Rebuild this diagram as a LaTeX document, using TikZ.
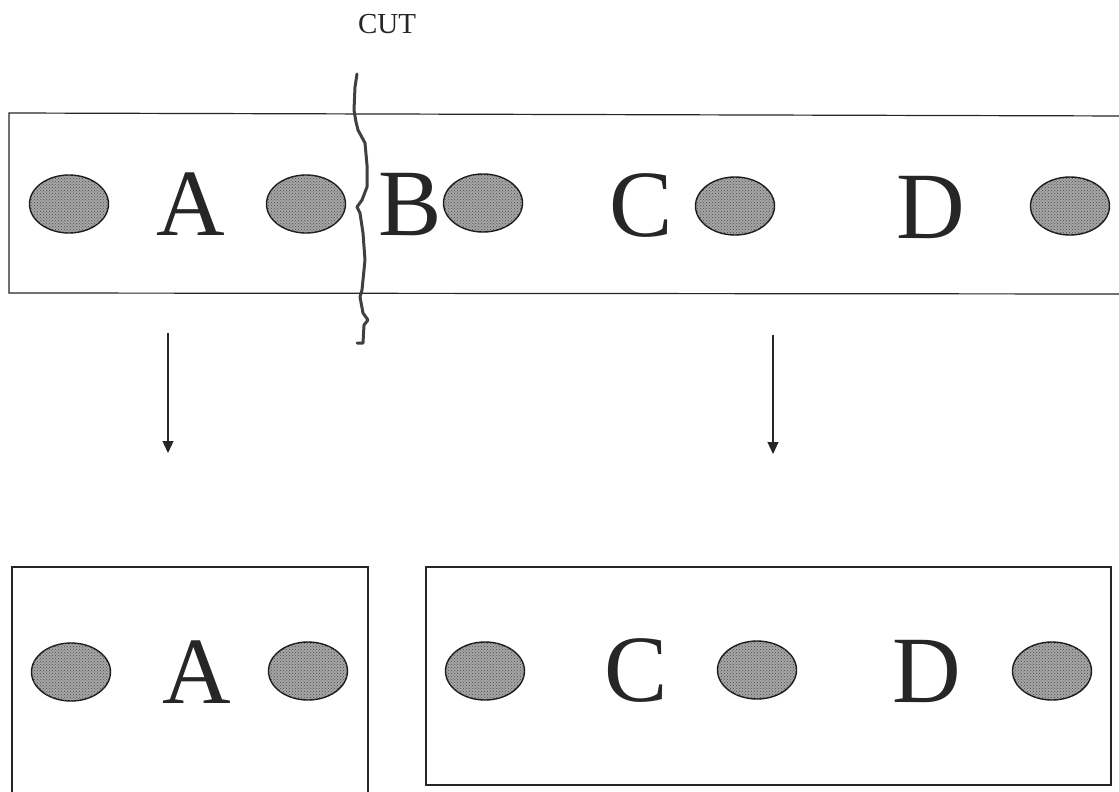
\documentclass[tikz,border=0pt]{standalone}
\usepackage{fontspec}
\setmainfont{Liberation Serif}
\usetikzlibrary{shapes.geometric,arrows.meta,patterns}
\begin{document}
\begin{tikzpicture}[x=1pt,y=-1pt,
  dot/.style={ellipse,draw=black!90,line width=1.4pt,minimum width=79pt,minimum height=58pt,inner sep=0pt,
    fill=gray!70,postaction={pattern=crosshatch dots,pattern color=black!70}},
  letter/.style={anchor=base,inner sep=0pt,text=black!85,font=\fontsize{95}{95}\selectfont},
  boxline/.style={draw=black!85,line width=1.2pt},
  cutline/.style={draw=black!75,line width=3pt,line join=round,line cap=round},
  arr/.style={draw=black!85,line width=1.1pt,-{Triangle[width=11pt,length=12pt]}}]
\useasboundingbox (0,0) rectangle (1119,792);
\clip (0,0) rectangle (1119,792);
\fill[white] (0,0) rectangle (1119,792);
% label
\node[anchor=base,inner sep=0pt,font=\fontsize{29}{29}\selectfont,text=black!85] (cut) at (387,34) {CUT};
% top strip
\draw[boxline] (1130,116) -- (9,113) -- (9,293) -- (1130,294);
\node[dot] (t1) at (69,204) {};
\node[letter] (tA) at (191,235) {A};
\node[dot] (t2) at (306,204) {};
\node[letter] (tB) at (410,235) {B};
\node[dot] (t3) at (483,203) {};
\node[letter] (tC) at (641,236) {C};
\node[dot] (t4) at (735,206) {};
\node[letter] (tD) at (931,238) {D};
\node[dot] (t5) at (1070,206) {};
% cut line
\draw[cutline] (357,74) -- (355,87) -- (354,110) -- (356,122) -- (358,130) -- (365,143) -- (367,165) -- (367,187)
  -- (362,200) -- (357,207) -- (360,213) -- (363,233) -- (365,260) -- (363,280) -- (362,290) -- (360,297)
  -- (363,313) -- (368,320) -- (364,325) -- (363,343) -- (357,343);
% arrows
\coordinate (a1s) at (168,333);
\coordinate (a1e) at (168,453);
\coordinate (a2s) at (773,335);
\coordinate (a2e) at (773,454);
\draw[arr] (a1s) -- (a1e);
\draw[arr] (a2s) -- (a2e);
% bottom-left box
\draw[boxline] (12,820) -- (12,567) -- (368,567) -- (368,820);
\node[dot] (b1) at (71,672) {};
\node[letter] (bA) at (197,703) {A};
\node[dot] (b2) at (308,671) {};
% bottom-right box
\draw[boxline] (426,567) rectangle (1111,785);
\node[dot] (b3) at (485,671) {};
\node[letter] (bC) at (636,701) {C};
\node[dot] (b4) at (757,670) {};
\node[letter] (bD) at (927,702) {D};
\node[dot] (b5) at (1052,671) {};
\end{tikzpicture}
\end{document}
